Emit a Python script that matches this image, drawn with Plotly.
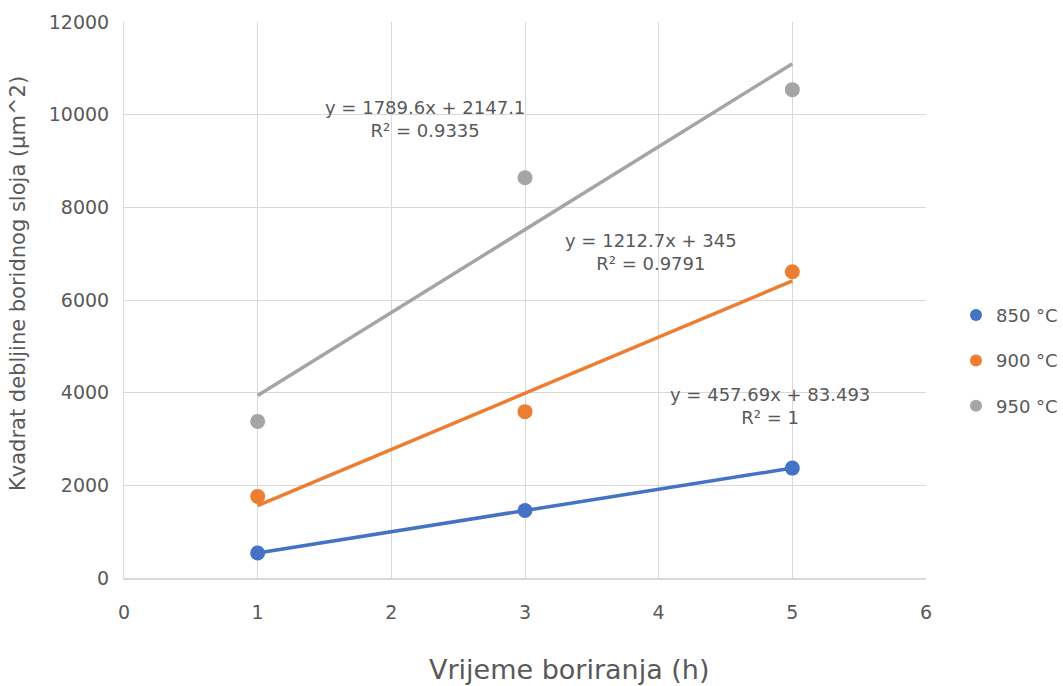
import numpy as np
import plotly.graph_objects as go

# DATA ---------------------------------
hours = [1, 3, 5]
series_names = ['850 °C', '900 °C', '950 °C']
y_850 = [541, 1457, 2372]
y_900 = [1760, 3590, 6610]
y_950 = [3380, 8640, 10540]
eq_labels = ['y = 457.69x + 83.493<br>R² = 1',
             'y = 1212.7x + 345<br>R² = 0.9791',
             'y = 1789.6x + 2147.1<br>R² = 0.9335']
x_ticks = [0, 1, 2, 3, 4, 5, 6]
y_ticks = [0, 2000, 4000, 6000, 8000, 10000, 12000]

colors = ['#4472C4', '#ED7D31', '#A5A5A5']
font_fam = 'DejaVu Sans, sans-serif'
txt_col = '#595959'

fig = go.Figure()

# trend lines (least squares from the data)
for ys, c in zip([y_850, y_900, y_950], colors):
    k, b = np.polyfit(hours, ys, 1)
    xl = [hours[0], hours[-1]]
    fig.add_trace(go.Scatter(x=xl, y=[k * v + b for v in xl], mode='lines',
                             line=dict(color=c, width=3.5), showlegend=False,
                             hoverinfo='skip'))

# points
for i, (ys, c) in enumerate(zip([y_850, y_900, y_950], colors)):
    fig.add_trace(go.Scatter(x=hours, y=ys, mode='markers', name=series_names[i],
                             marker=dict(color=c, size=15),
                             legendgroup=str(i)))

# equation labels
eq_pos = [(4.83, 3720), (3.94, 7030), (2.25, 9900)]
for (ax, ay), t in zip(eq_pos, eq_labels):
    fig.add_annotation(x=ax, y=ay, text=t, showarrow=False,
                       font=dict(size=18, color=txt_col, family=font_fam))

# axis titles (Excel places them off-centre)
fig.add_annotation(xref='paper', yref='paper', x=0.555, y=-0.165,
                   xanchor='center', yanchor='middle',
                   text='Vrijeme boriranja (h)', showarrow=False,
                   font=dict(size=27, color=txt_col))
fig.add_annotation(xref='paper', yref='paper', x=-0.132, y=0.529, textangle=-90,
                   xanchor='center', yanchor='middle',
                   text='Kvadrat debljine boridnog sloja (µm^2)', showarrow=False,
                   font=dict(size=21, color=txt_col))

fig.update_layout(
    width=1063, height=686,
    paper_bgcolor='white', plot_bgcolor='white',
    margin=dict(l=124, r=137, t=22, b=108),
    font=dict(family=font_fam, color=txt_col),
    legend=dict(xref='container', yref='container', x=1.0, y=0.474,
                xanchor='right', yanchor='middle',
                traceorder='grouped', tracegroupgap=19, itemsizing='constant',
                font=dict(size=18, color=txt_col), itemwidth=30),
)
fig.update_xaxes(range=[0, 6], tickvals=x_ticks, ticktext=[str(v) for v in x_ticks],
                 showgrid=True, gridcolor='#d9d9d9', automargin=False,
                 zeroline=False, showline=True, linecolor='#d9d9d9', linewidth=1.5,
                 ticklabelstandoff=16,
                 tickfont=dict(size=19, color=txt_col))
fig.update_yaxes(range=[0, 12000], tickvals=y_ticks, ticktext=[str(v) for v in y_ticks],
                 showgrid=True, gridcolor='#d9d9d9', automargin=False,
                 zeroline=False, showline=True, linecolor='#d9d9d9', linewidth=1,
                 ticklabelstandoff=10,
                 tickfont=dict(size=19, color=txt_col))

fig.write_html('out.html', config={'displayModeBar': False},
               post_script="document.body.style.margin='0';")
